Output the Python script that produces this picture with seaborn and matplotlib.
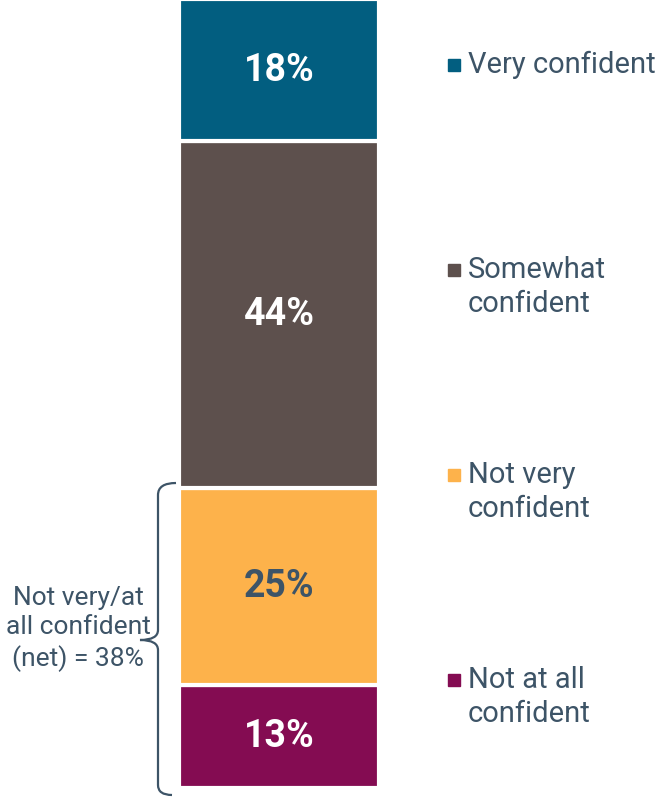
import matplotlib
matplotlib.use("Agg")
import matplotlib.pyplot as plt
from matplotlib.path import Path
from matplotlib.patches import PathPatch
from matplotlib.lines import Line2D
import seaborn as sns

# Survey responses, stacked bottom to top
categories = ["Not at all confident", "Not very confident", "Somewhat confident", "Very confident"]
legend_labels = ["Not at all\nconfident", "Not very\nconfident", "Somewhat\nconfident", "Very confident"]
values = [13, 25, 44, 18]
colors = ["#840c52", "#fdb24b", "#5d504d", "#025e80"]
label_colors = ["white", "#3d5467", "white", "white"]

W, H = 658, 797
TEXT = "#3d5467"

sns.set_theme(style="white")
plt.rcParams["font.family"] = ["Roboto", "DejaVu Sans"]

fig = plt.figure(figsize=(W / 100, H / 100), dpi=100)


def fx(x):
    return x / W


def fy(y):
    return 1 - y / H


# axes that hold the single stacked bar
left_px, right_px, top_px, bottom_px = 179, 379, -1, 788
ax = fig.add_axes([fx(left_px), fy(bottom_px), fx(right_px - left_px), (bottom_px - top_px) / H])

bottom = 0
for cat, v, c, lc in zip(categories, values, colors, label_colors):
    sns.barplot(x=["All"], y=[v], bottom=bottom, color=c, width=1.0,
                edgecolor="white", linewidth=3, errorbar=None, ax=ax,
                saturation=1)
    ax.text(0, bottom + v / 2, f"{v}%", ha="center", va="center",
            color=lc, fontsize=27, fontweight="bold")
    bottom += v

ax.set_xlim(-0.5, 0.5)
ax.set_ylim(0, 100)
ax.axis("off")

# legend entries laid out beside the bar
legend_y = [697, 492, 287, 65]
for lab, c, y in zip(legend_labels, colors, legend_y):
    n = lab.count("\n") + 1
    first = y - (n - 1) * 17
    fig.add_artist(Line2D([fx(453.5)], [fy(first)], marker="s", markersize=8.5,
                          color=c, linestyle="none", transform=fig.transFigure))
    fig.text(fx(468), fy(y), lab, ha="left", va="center", color=TEXT,
             fontsize=21, linespacing=1.3)

# curly brace spanning the two lowest segments
verts = [
    (176, 483), (158, 483), (158, 495),
    (158, 630),
    (158, 640), (140, 640),
    (158, 640), (158, 650),
    (158, 785),
    (158, 795), (172, 795),
]
codes = [Path.MOVETO, Path.CURVE3, Path.CURVE3,
         Path.LINETO,
         Path.CURVE3, Path.CURVE3,
         Path.CURVE3, Path.CURVE3,
         Path.LINETO,
         Path.CURVE3, Path.CURVE3]
brace = Path([(fx(x), fy(y)) for x, y in verts], codes)
fig.add_artist(PathPatch(brace, facecolor="none", edgecolor=TEXT, linewidth=1.6,
                         transform=fig.transFigure))

net = values[0] + values[1]
fig.text(fx(78), fy(629), f"Not very/at\nall confident\n(net) = {net}%", ha="center",
         va="center", color=TEXT, fontsize=19, linespacing=1.3)

fig.savefig("out.png", dpi=100)
